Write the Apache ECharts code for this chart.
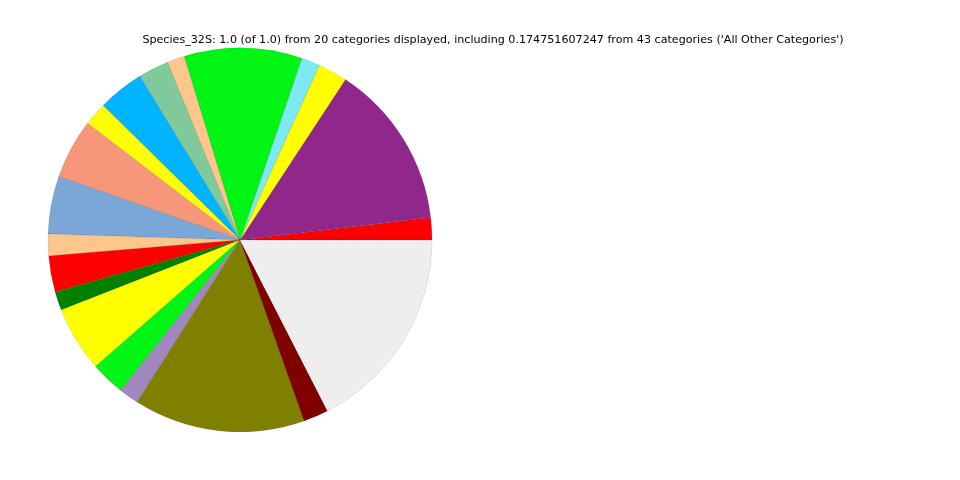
<!DOCTYPE html>
<html><head><meta charset="utf-8">
<script src="https://cdn.jsdelivr.net/npm/echarts@6/dist/echarts.min.js"></script>
<style>html,body{margin:0;padding:0;background:#fff}#c{width:960px;height:480px}</style>
</head><body><div id="c"></div>
<script>
const categories = ["Category 1","Category 2","Category 3","Category 4","Category 5","Category 6","Category 7","Category 8","Category 9","Category 10","Category 11","Category 12","Category 13","Category 14","Category 15","Category 16","Category 17","Category 18","Category 19","All Other Categories"];
const values = [0.0186,0.1389,0.0247,0.0156,0.0992,0.0147,0.0258,0.0389,0.0197,0.0503,0.0486,0.0183,0.0303,0.0158,0.0550,0.0289,0.0167,0.1442,0.0211,0.174751607247];
const colors = ["#ff0000","#90288c","#ffff00","#7de9f2","#00f514","#fdc68a","#80c99b","#00b4ff","#ffff00","#f7977a","#7ba7d7","#fdc68a","#ff0000","#008000","#ffff00","#00f514","#a187be","#808000","#800000","#eeeeee"];
const titleText = "Species_32S: 1.0 (of 1.0) from 20 categories displayed, including 0.174751607247 from 43 categories ('All Other Categories')";

const chart = echarts.init(document.getElementById('c'), null, {renderer:'canvas'});
chart.setOption({
  animation:false,
  backgroundColor:'#ffffff',
  graphic:[{type:'text', x:493, y:40, style:{text:titleText, font:'11.13px "DejaVu Sans"', fill:'#000', textAlign:'center', textVerticalAlign:'middle'}}],
  series:[{
    type:'pie',
    center:[240,240],
    radius:[0,192],
    startAngle:0,
    clockwise:false,
    minAngle:0,
    avoidLabelOverlap:false,
    label:{show:false},
    labelLine:{show:false},
    emphasis:{disabled:true},
    itemStyle:{borderWidth:0.5, borderColor:'rgba(0,0,0,0.2)'},
    data: categories.map((c,i)=>({name:c, value:values[i], itemStyle:{color:colors[i]}}))
  }]
});
</script></body></html>
